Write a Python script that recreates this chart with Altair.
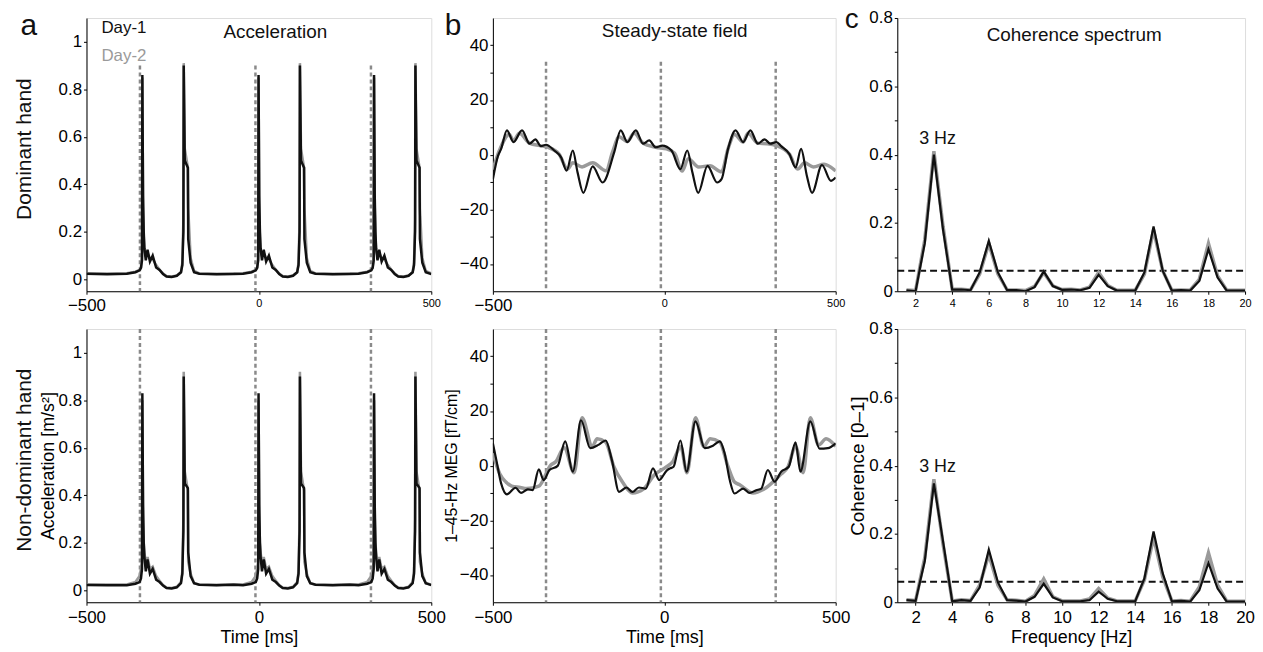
import altair as alt
import pandas as pd

FONT = "Liberation Sans"
BLACK = "#111111"
GREY = "#9a9a9a"
DASH_GREY = "#8a8a8a"

# ---------------- data ----------------
tap_times = [-345, -10, 325]

acc_t = [-500, -440,
         -383, -358, -346, -342, -339, -338, -336, -334, -332, -328, -323, -316, -308, -298, -288, -278, -268, -253, -238, -226, -222, -219, -218, -215, -206, -205, -198, -188, -173, -123, -73,
         -46, -21, -9, -5, -2, -1, 1, 3, 5, 9, 14, 21, 29, 39, 49, 59, 69, 84, 99, 111, 115, 118, 119, 122, 131, 132, 139, 149, 164, 214, 264,
         289, 314, 326, 330, 333, 334, 336, 338, 340, 344, 349, 356, 364, 374, 384, 394, 404, 419, 434, 446, 450, 453, 454, 457, 466, 467, 474, 484, 500]

acc_dom_day1 = [0.024, 0.022,
                0.024, 0.03, 0.038, 0.048, 0.08, 0.86, 0.35, 0.2, 0.13, 0.08, 0.125, 0.075, 0.1, 0.05, 0.04, 0.022, 0.012, 0.01, 0.015, 0.03, 0.06, 0.2, 0.9, 0.5, 0.47, 0.17, 0.07, 0.03, 0.024, 0.022, 0.023,
                0.024, 0.03, 0.038, 0.048, 0.08, 0.86, 0.35, 0.2, 0.13, 0.08, 0.125, 0.075, 0.1, 0.05, 0.04, 0.022, 0.012, 0.01, 0.015, 0.03, 0.06, 0.2, 0.9, 0.5, 0.47, 0.17, 0.07, 0.03, 0.024, 0.022, 0.023,
                0.024, 0.03, 0.038, 0.048, 0.08, 0.86, 0.35, 0.2, 0.13, 0.08, 0.125, 0.075, 0.1, 0.05, 0.04, 0.022, 0.012, 0.01, 0.015, 0.03, 0.06, 0.2, 0.9, 0.5, 0.47, 0.17, 0.07, 0.03, 0.022]

acc_dom_day2 = [0.025, 0.024,
                0.026, 0.032, 0.04, 0.05, 0.1, 0.85, 0.3, 0.18, 0.12, 0.1, 0.11, 0.09, 0.085, 0.06, 0.04, 0.025, 0.014, 0.012, 0.016, 0.03, 0.07, 0.25, 0.91, 0.55, 0.47, 0.3, 0.09, 0.035, 0.025, 0.023, 0.024,
                0.026, 0.032, 0.04, 0.05, 0.1, 0.85, 0.3, 0.18, 0.12, 0.1, 0.11, 0.09, 0.085, 0.06, 0.04, 0.025, 0.014, 0.012, 0.016, 0.03, 0.07, 0.25, 0.91, 0.55, 0.47, 0.3, 0.09, 0.035, 0.025, 0.023, 0.024,
                0.026, 0.032, 0.04, 0.05, 0.1, 0.85, 0.3, 0.18, 0.12, 0.1, 0.11, 0.09, 0.085, 0.06, 0.04, 0.025, 0.014, 0.012, 0.016, 0.03, 0.07, 0.25, 0.91, 0.55, 0.47, 0.3, 0.09, 0.035, 0.025]

acc_nondom_day1 = [0.023, 0.022,
                   0.022, 0.028, 0.035, 0.05, 0.09, 0.83, 0.36, 0.2, 0.14, 0.08, 0.13, 0.07, 0.09, 0.045, 0.035, 0.02, 0.01, 0.008, 0.013, 0.03, 0.07, 0.25, 0.9, 0.45, 0.43, 0.16, 0.06, 0.03, 0.024, 0.022, 0.024,
                   0.022, 0.028, 0.035, 0.05, 0.09, 0.83, 0.36, 0.2, 0.14, 0.08, 0.13, 0.07, 0.09, 0.045, 0.035, 0.02, 0.01, 0.008, 0.013, 0.03, 0.07, 0.25, 0.9, 0.45, 0.43, 0.16, 0.06, 0.03, 0.024, 0.022, 0.024,
                   0.022, 0.028, 0.035, 0.05, 0.09, 0.83, 0.36, 0.2, 0.14, 0.08, 0.13, 0.07, 0.09, 0.045, 0.035, 0.02, 0.01, 0.008, 0.013, 0.03, 0.07, 0.25, 0.9, 0.45, 0.43, 0.16, 0.06, 0.03, 0.022]

acc_nondom_day2 = [0.024, 0.025,
                   0.025, 0.035, 0.06, 0.09, 0.12, 0.8, 0.3, 0.2, 0.16, 0.11, 0.14, 0.09, 0.1, 0.06, 0.04, 0.022, 0.012, 0.01, 0.015, 0.035, 0.08, 0.3, 0.92, 0.5, 0.42, 0.12, 0.07, 0.03, 0.025, 0.023, 0.026,
                   0.025, 0.035, 0.06, 0.09, 0.12, 0.8, 0.3, 0.2, 0.16, 0.11, 0.14, 0.09, 0.1, 0.06, 0.04, 0.022, 0.012, 0.01, 0.015, 0.035, 0.08, 0.3, 0.92, 0.5, 0.42, 0.12, 0.07, 0.03, 0.025, 0.023, 0.026,
                   0.025, 0.035, 0.06, 0.09, 0.12, 0.8, 0.3, 0.2, 0.16, 0.11, 0.14, 0.09, 0.1, 0.06, 0.04, 0.022, 0.012, 0.01, 0.015, 0.035, 0.08, 0.3, 0.92, 0.5, 0.42, 0.12, 0.07, 0.03, 0.025]

meg_dom_day1_t = [-500, -485, -476, -459, -440, -415, -393, -376, -360, -345, -321, -301, -285, -267, -253, -236, -209, -180, -146, -127,
                  -108, -83, -62, -44, -25, -6, 21, 47, 67, 82, 99, 126, 154, 167, 186, 208, 230, 251, 273, 293,
                  309, 327, 341, 365, 383, 399, 416, 431, 460, 486, 500]
meg_dom_day1 = [-9.0, -0.4, 2.1, 8.9, 4.6, 8.9, 4.0, 5.6, 3.1, 3.6, 1.5, -1.0, -5.9, 1.5, -6.5, -14.0, -4.3, -10.2, 0.9, 8.9,
                4.6, 8.9, 4.0, 5.2, 2.7, 3.3, 1.5, -5.3, 1.5, -6.5, -14.0, -4.1, -10.2, -9.0, 2.1, 8.9, 4.6, 8.9, 4.0, 5.6,
                4.0, 4.6, 3.1, 0.2, -4.7, 2.1, -7.8, -14.0, -3.8, -9.6, -8.4]

meg_dom_day2_t = [-500, -481, -452, -440, -423, -393, -363, -340, -307, -282, -267, -240, -209, -170, -151, -132, -108, -88, -62, -25,
                  7, 30, 52, 70, 100, 133, 167, 186, 205, 230, 244, 273, 300, 327, 365, 389, 409, 435, 466, 500]
meg_dom_day2 = [-5.5, 1.5, 7.4, 5.0, 7.8, 4.2, 3.3, 2.7, 0.2, -5.3, -3.0, -4.5, -3.0, -5.9, 0.9, 6.5, 4.8, 7.8, 4.2, 2.7,
                2.1, 0.5, -6.0, -1.5, -4.5, -4.1, -6.3, 2.1, 7.4, 4.6, 7.8, 4.2, 4.0, 3.3, 0.2, -5.3, -3.0, -4.5, -3.5, -6.0]

meg_nondom_day1_t = [-500, -490, -476, -459, -434, -418, -398, -384, -366, -352, -335, -311, -289, -267, -243, -216, -192, -171, -153, -132,
                     -110, -93, -74, -54, -33, -15, 7, 17, 27, 47, 65, 91, 118, 142, 162, 176, 191, 205, 230, 249,
                     268, 283, 302, 322, 341, 363, 383, 397, 426, 453, 477, 500]
meg_nondom_day1 = [8.2, 2.1, -6.5, -10.5, -8.1, -10.0, -8.7, -9.0, -1.4, -5.3, -1.6, -0.1, 8.9, -2.2, 16.6, 6.4, 7.6, 9.2, 2.1, -9.6,
                   -8.0, -9.6, -8.0, -8.4, -1.0, -5.3, -1.8, -1.0, -0.4, 9.2, -2.2, 16.2, 6.4, 7.3, 8.9, 4.5, -5.3, -10.2, -8.4, -10.0,
                   -9.0, -8.4, -1.6, -5.9, -2.2, -0.4, 8.5, -2.2, 16.2, 6.2, 6.4, 8.2]

meg_nondom_day2_t = [-500, -480, -462, -445, -420, -402, -366, -331, -316, -292, -263, -240, -210, -196, -171, -147, -122, -93, -60, -30,
                     7, 25, 48, 66, 91, 115, 134, 162, 185, 205, 220, 259, 298, 337, 361, 383, 405, 426, 450, 472, 500]
meg_nondom_day2 = [4.5, -3.0, -6.0, -7.5, -8.0, -8.4, -7.5, 0.2, 1.5, 6.5, -2.6, 17.5, 7.0, 9.8, 8.6, -0.4, -6.0, -10.0, -8.5, -3.5,
                   -0.4, 1.5, 7.0, -2.6, 17.5, 7.0, 9.8, 8.6, 0.0, -6.0, -7.0, -10.0, -8.0, -3.5, -0.4, 7.0, -2.6, 17.5, 7.5, 9.8, 7.0]

freq = [1.5, 2, 2.5, 3, 3.5, 4, 4.5, 5, 5.5, 6, 6.5, 7, 7.5, 8, 8.5, 9, 9.5, 10, 10.5, 11,
        11.5, 12, 12.5, 13, 13.5, 14, 14.5, 15, 15.5, 16, 16.5, 17, 17.5, 18, 18.5, 19, 19.5, 20]
coh_dom_day1 = [0.003, 0.0, 0.14, 0.40, 0.18, 0.005, 0.005, 0.003, 0.055, 0.147, 0.055, 0.003, 0.003, 0.0, 0.012, 0.058, 0.015, 0.004, 0.005, 0.003,
                0.01, 0.048, 0.015, 0.002, 0.002, 0.002, 0.055, 0.19, 0.06, 0.002, 0.003, 0.002, 0.03, 0.123, 0.04, 0.002, 0.002, 0.002]
coh_dom_day2 = [0.004, 0.002, 0.15, 0.41, 0.19, 0.006, 0.006, 0.004, 0.05, 0.14, 0.05, 0.004, 0.004, 0.002, 0.014, 0.055, 0.016, 0.005, 0.006, 0.004,
                0.012, 0.055, 0.017, 0.003, 0.003, 0.003, 0.05, 0.18, 0.06, 0.003, 0.004, 0.003, 0.035, 0.14, 0.045, 0.003, 0.003, 0.003]
coh_nondom_day1 = [0.006, 0.004, 0.12, 0.348, 0.178, 0.003, 0.006, 0.004, 0.043, 0.154, 0.058, 0.006, 0.005, 0.002, 0.016, 0.054, 0.014, 0.003, 0.003, 0.003,
                   0.006, 0.031, 0.01, 0.003, 0.003, 0.003, 0.07, 0.207, 0.085, 0.003, 0.004, 0.002, 0.035, 0.115, 0.04, 0.002, 0.002, 0.002]
coh_nondom_day2 = [0.007, 0.005, 0.13, 0.36, 0.17, 0.004, 0.007, 0.005, 0.05, 0.14, 0.05, 0.007, 0.006, 0.003, 0.02, 0.068, 0.016, 0.004, 0.004, 0.004,
                   0.01, 0.04, 0.012, 0.004, 0.004, 0.004, 0.065, 0.19, 0.075, 0.004, 0.005, 0.003, 0.045, 0.145, 0.05, 0.003, 0.003, 0.003]
coh_threshold = 0.06

acc_yticks = [0, 0.2, 0.4, 0.6, 0.8, 1]
meg_yticks = [-40, -30, -20, -10, 0, 10, 20, 30, 40]
coh_yticks = [0, 0.1, 0.2, 0.3, 0.4, 0.5, 0.6, 0.7, 0.8]
time_xticks = [-500, 0, 500]
freq_xticks = [2, 4, 6, 8, 10, 12, 14, 16, 18, 20]

# ---------------- helpers ----------------
W_A, W_B, W_C, H = 347, 345, 350, 275


def frame(t, v):
    n = min(len(t), len(v))
    return pd.DataFrame({"t": list(t[:n]), "v": list(v[:n])})


AX = dict(domainColor="black", domainWidth=1, tickColor="black", tickSize=3, tickWidth=1,
          labelPadding=2, labelFlush=False, labelOverlap=False, grid=False, labelColor="black",
          labelFont=FONT, titleFont=FONT, titleFontWeight="normal", titleColor="black")


def xaxis(values, size, title=None, title_size=18):
    kw = dict(AX)
    kw.update(values=values, labelFontSize=size, format="d")
    if title:
        kw.update(title=title, titleFontSize=title_size, titlePadding=4, labelPadding=4)
    else:
        kw.update(title=None, labelPadding=3)
    return alt.Axis(**kw)


def yaxis(values, fmt, label_expr=None, title=None, title_size=18, title_pad=1):
    kw = dict(AX)
    kw.update(values=values, labelFontSize=17, format=fmt)
    if label_expr:
        kw.update(labelExpr=label_expr)
    if title:
        kw.update(title=title, titleFontSize=title_size, titlePadding=title_pad)
    else:
        kw.update(title=None)
    return alt.Axis(**kw)


def line(df, color, width, xs, ys, xa, ya, interp="linear"):
    return alt.Chart(df).mark_line(color=color, strokeWidth=width, interpolate=interp, clip=True).encode(
        x=alt.X("t:Q", scale=xs, axis=xa),
        y=alt.Y("v:Q", scale=ys, axis=ya),
    )


def taps(top, bot, xs, ys, xa, ya):
    df = pd.DataFrame({"t": tap_times, "top": [top] * len(tap_times), "bot": [bot] * len(tap_times)})
    return alt.Chart(df).mark_rule(color=DASH_GREY, strokeWidth=2.5, strokeDash=[4, 3]).encode(
        x=alt.X("t:Q", scale=xs, axis=xa),
        y=alt.Y("top:Q", scale=ys, axis=ya),
        y2=alt.Y2("bot:Q"),
    )


def note(text, x, y, size, color=BLACK, align="center", baseline="alphabetic", angle=0):
    kw = dict(text=text, fontSize=size, color=color, align=align, baseline=baseline, font=FONT)
    if angle:
        kw["angle"] = angle
    return alt.Chart(alt.Data(values=[{}])).mark_text(**kw).encode(x=alt.value(x), y=alt.value(y))


small_except_first = {"condition": {"test": "datum.value == -500", "value": 17}, "value": 11}

x_time = alt.Scale(domain=[-500, 500], nice=False, zero=False)
y_acc = alt.Scale(domain=[-0.05, 1.1], nice=False, zero=False)
y_meg = alt.Scale(domain=[-50, 50], nice=False, zero=False)
x_freq = alt.Scale(domain=[1, 20], nice=False, zero=False)
y_coh = alt.Scale(domain=[0, 0.8], nice=False, zero=False)

meg_expr = "abs(datum.value) % 20 == 0 ? datum.label : ''"
coh_expr = "round(datum.value * 10) % 2 == 0 ? datum.label : ''"

# ---------------- panel a ----------------
xa_top = xaxis(time_xticks, small_except_first)
ya_top = yaxis(acc_yticks, "~g")
a_top = alt.layer(
    taps(0.9, -0.05, x_time, y_acc, xa_top, ya_top),
    line(frame(acc_t, acc_dom_day2), GREY, 2.6, x_time, y_acc, xa_top, ya_top),
    line(frame(acc_t, acc_dom_day1), BLACK, 2.5, x_time, y_acc, xa_top, ya_top),
    note("a", -58, 17, 30),
    note("Dominant hand", -62, 132, 21, baseline="middle", angle=270),
    note("Day-1", 15, 15, 17, align="left"),
    note("Day-2", 15, 43, 17, color=GREY, align="left"),
    note("Acceleration", 190, 20, 19),
).properties(width=W_A, height=H)

xa_bot = xaxis(time_xticks, 17, "Time [ms]")
ya_bot = yaxis(acc_yticks, "~g", title="Acceleration [m/s²]", title_size=18, title_pad=1)
a_bot = alt.layer(
    taps(1.1, -0.05, x_time, y_acc, xa_bot, ya_bot),
    line(frame(acc_t, acc_nondom_day2), GREY, 2.6, x_time, y_acc, xa_bot, ya_bot),
    line(frame(acc_t, acc_nondom_day1), BLACK, 2.5, x_time, y_acc, xa_bot, ya_bot),
    note("Non-dominant hand", -62, 132, 21, baseline="middle", angle=270),
).properties(width=W_A, height=H)

# ---------------- panel b ----------------
xb_top = xaxis(time_xticks, small_except_first)
yb_top = yaxis(meg_yticks, "d", meg_expr)
b_top = alt.layer(
    taps(34, -50, x_time, y_meg, xb_top, yb_top),
    line(frame(meg_dom_day2_t, meg_dom_day2), GREY, 3.5, x_time, y_meg, xb_top, yb_top, "monotone"),
    line(frame(meg_dom_day1_t, meg_dom_day1), BLACK, 2.2, x_time, y_meg, xb_top, yb_top, "monotone"),
    note("b", -40, 17, 30),
    note("Steady-state field", 183, 19, 19),
).properties(width=W_B, height=H)

xb_bot = xaxis(time_xticks, 17, "Time [ms]")
yb_bot = yaxis(meg_yticks, "d", meg_expr, title="1–45-Hz MEG [fT/cm]", title_size=16, title_pad=0)
b_bot = alt.layer(
    taps(50, -50, x_time, y_meg, xb_bot, yb_bot),
    line(frame(meg_nondom_day2_t, meg_nondom_day2), GREY, 3.5, x_time, y_meg, xb_bot, yb_bot, "monotone"),
    line(frame(meg_nondom_day1_t, meg_nondom_day1), BLACK, 2.2, x_time, y_meg, xb_bot, yb_bot, "monotone"),
).properties(width=W_B, height=H)

# ---------------- panel c ----------------
def threshold(xs, ys, xa, ya):
    df = pd.DataFrame({"t": [1, 20], "v": [coh_threshold, coh_threshold]})
    return alt.Chart(df).mark_line(color=BLACK, strokeWidth=1.8, strokeDash=[7, 4]).encode(
        x=alt.X("t:Q", scale=xs, axis=xa), y=alt.Y("v:Q", scale=ys, axis=ya))


def hz_label(v, xs, ys, xa, ya):
    df = pd.DataFrame({"t": [3.2], "v": [v], "label": ["3 Hz"]})
    return alt.Chart(df).mark_text(fontSize=18, color=BLACK, font=FONT, baseline="alphabetic").encode(
        x=alt.X("t:Q", scale=xs, axis=xa), y=alt.Y("v:Q", scale=ys, axis=ya), text="label:N")


xc_top = xaxis(freq_xticks, 11)
yc_top = yaxis(coh_yticks, "~g", coh_expr)
c_top = alt.layer(
    threshold(x_freq, y_coh, xc_top, yc_top),
    line(frame(freq, coh_dom_day2), GREY, 3.5, x_freq, y_coh, xc_top, yc_top),
    line(frame(freq, coh_dom_day1), BLACK, 2.2, x_freq, y_coh, xc_top, yc_top),
    hz_label(0.43, x_freq, y_coh, xc_top, yc_top),
    note("c", -46, 10, 28),
    note("Coherence spectrum", 178, 23, 19),
).properties(width=W_C, height=H)

xc_bot = xaxis(freq_xticks, 17, "Frequency [Hz]")
yc_bot = yaxis(coh_yticks, "~g", coh_expr, title="Coherence [0–1]", title_size=19, title_pad=1)
c_bot = alt.layer(
    threshold(x_freq, y_coh, xc_bot, yc_bot),
    line(frame(freq, coh_nondom_day2), GREY, 3.5, x_freq, y_coh, xc_bot, yc_bot),
    line(frame(freq, coh_nondom_day1), BLACK, 2.2, x_freq, y_coh, xc_bot, yc_bot),
    hz_label(0.38, x_freq, y_coh, xc_bot, yc_bot),
).properties(width=W_C, height=H)

chart = alt.concat(
    a_top, b_top, c_top, a_bot, b_bot, c_bot,
    columns=3, spacing={"row": 38, "column": 62}, bounds="flush", align="each",
).properties(
    padding={"left": 5, "top": -5, "right": 0, "bottom": 0},
).configure_view(stroke=None).configure(font=FONT)

chart.save("out.html", embed_options={"renderer": "svg", "actions": False})
